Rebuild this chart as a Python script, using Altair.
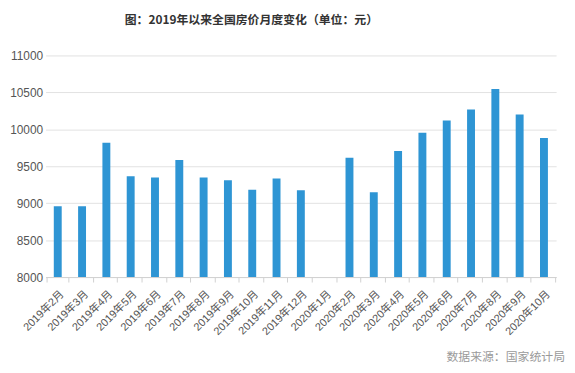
import altair as alt
import pandas as pd

months = ["2019年2月", "2019年3月", "2019年4月", "2019年5月", "2019年6月", "2019年7月",
          "2019年8月", "2019年9月", "2019年10月", "2019年11月", "2019年12月",
          "2020年1月", "2020年2月", "2020年3月", "2020年4月", "2020年5月", "2020年6月",
          "2020年7月", "2020年8月", "2020年9月", "2020年10月"]
prices = [8960, 8960, 9817, 9366, 9348, 9585, 9348, 9312, 9183, 9335, 9174,
          None, 9616, 9147, 9705, 9955, 10120, 10268, 10545, 10201, 9884]
y_ticks = [8000, 8500, 9000, 9500, 10000, 10500, 11000]
title_text = "图：2019年以来全国房价月度变化（单位：元）"
source_text = "数据来源：国家统计局"

df = pd.DataFrame({"month": months, "price": prices})

FONT = "Liberation Sans, Noto Sans CJK SC, sans-serif"

bars = alt.Chart(df).mark_bar(size=8, color="#2e95d4", clip=True).encode(
    x=alt.X("month:N", sort=months, title=None,
            axis=alt.Axis(labelAngle=-45, labelFontSize=11, labelColor="#555555",
                          labelFont=FONT, labelPadding=6, tickBand="extent",
                          tickSize=5, tickColor="#d0d0d0", domainColor="#d0d0d0",
                          grid=False)),
    y=alt.Y("price:Q", title=None,
            scale=alt.Scale(domain=[8000, 11000], zero=False, nice=False),
            axis=alt.Axis(values=y_ticks, format="d", labelFontSize=12,
                          labelColor="#555555", labelFont=FONT, labelPadding=3,
                          domain=False, ticks=False, gridColor="#e2e2e2", grid=True)),
    y2=alt.datum(8000),
)

src = alt.Chart(pd.DataFrame({"t": [source_text]})).mark_text(
    align="right", baseline="middle", fontSize=12, color="#9a9a9a",
    font="Noto Sans CJK SC").encode(
    text="t:N", x=alt.value(525), y=alt.value(305))

chart = alt.layer(bars, src).properties(
    width=516, height=224,
    title=alt.TitleParams(title_text, anchor="middle", frame="group", dx=-50,
                          fontSize=12, font="Noto Sans CJK SC", fontWeight="bold",
                          color="#333333", offset=23),
    autosize=alt.AutoSizeParams(type="none"),
    padding={"left": 38, "top": 46, "right": 11, "bottom": 93},
).configure_view(stroke=None)

chart.save("out.html", embed_options={"renderer": "svg", "actions": False})
